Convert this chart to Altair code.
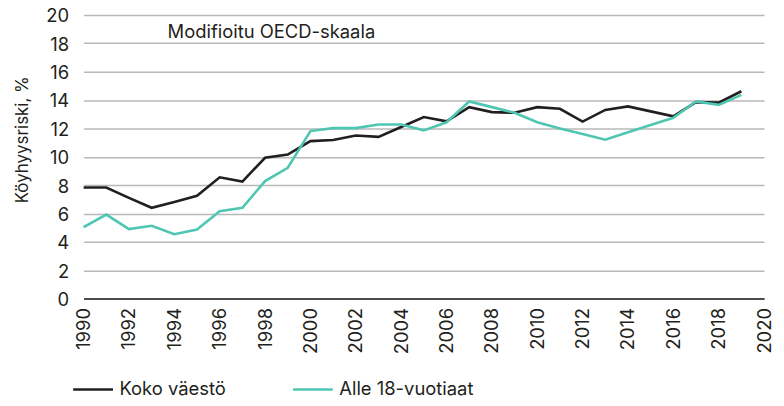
import altair as alt
import pandas as pd

years = list(range(1990, 2020))
koko = [7.83, 7.83, 7.1, 6.4, 6.8, 7.25, 8.55, 8.25, 9.93, 10.15,
        11.1, 11.18, 11.5, 11.4, 12.1, 12.8, 12.5, 13.5, 13.15, 13.1,
        13.5, 13.38, 12.48, 13.3, 13.55, 13.2, 12.85, 13.85, 13.82, 14.62]
alle18 = [5.03, 5.92, 4.9, 5.13, 4.54, 4.87, 6.15, 6.4, 8.28, 9.22,
          11.81, 12.02, 12.02, 12.28, 12.28, 11.86, 12.43, 13.9, 13.5, 13.1,
          12.43, 12.0, 11.6, 11.2, 11.73, 12.24, 12.75, 13.9, 13.66, 14.36]
series_names = ["Koko väestö", "Alle 18-vuotiaat"]
series_colors = ["#231f20", "#4fc6b2"]
x_ticks = list(range(1990, 2021, 2))
y_ticks = list(range(0, 21, 2))
note = "Modifioitu OECD-skaala"

rows = []
for name, vals in zip(series_names, [koko, alle18]):
    for yr, v in zip(years, vals):
        rows.append({"vuosi": yr, "arvo": v, "sarja": name})
df = pd.DataFrame(rows)

FONT = "Inter"
FS = 18.5

x_scale = alt.Scale(domain=[1990, 2020], nice=False, zero=False)
y_scale = alt.Scale(domain=[0, 20], nice=False)
x_axis = alt.Axis(values=x_ticks, format="d", labelAngle=270,
                  labelAlign="right", labelBaseline="middle",
                  labelOverlap=False, labelFlush=False,
                  grid=False, ticks=False, domain=True,
                  domainColor="#231f20", domainWidth=1.5,
                  labelPadding=9, labelFontSize=FS, labelColor="#231f20",
                  title=None)
y_axis = alt.Axis(values=y_ticks, grid=True, gridColor="#b8b8b8",
                  gridWidth=1.5, domain=False, ticks=False,
                  labelOverlap=False, labelFlush=False, labelOffset=1,
                  labelPadding=15, labelFontSize=FS, labelColor="#231f20",
                  title="Köyhyysriski, %", titleFontSize=17,
                  titleFontWeight="normal", titleColor="#231f20",
                  titlePadding=14, titleY=125)

lines = alt.Chart(df).mark_line(strokeWidth=2.6).encode(
    x=alt.X("vuosi:Q", scale=x_scale, axis=x_axis),
    y=alt.Y("arvo:Q", scale=y_scale, axis=y_axis),
    color=alt.Color("sarja:N",
                    scale=alt.Scale(domain=series_names, range=series_colors),
                    sort=series_names,
                    legend=alt.Legend(title=None, orient="none",
                                      direction="horizontal",
                                      legendX=-12, legendY=355,
                                      symbolType="stroke", symbolSize=1600,
                                      symbolStrokeWidth=2.6,
                                      labelFontSize=FS, labelColor="#231f20",
                                      columnPadding=61, labelOffset=5)),
)

ann = alt.Chart(pd.DataFrame({"t": [note]})).mark_text(
    align="left", baseline="middle", fontSize=FS, color="#231f20", font=FONT
).encode(
    x=alt.X(datum=1993.7, scale=x_scale, axis=x_axis),
    y=alt.Y(datum=18.8, scale=y_scale, axis=y_axis),
    text="t:N",
)

chart = alt.layer(lines, ann).properties(
    width=684, height=285,
    autosize=alt.AutoSizeParams(type="none"),
    padding={"left": 76, "top": 6, "right": 12, "bottom": 99},
).configure(font=FONT).configure_view(stroke=None)

chart.save("out.html", embed_options={"renderer": "svg", "actions": False})
